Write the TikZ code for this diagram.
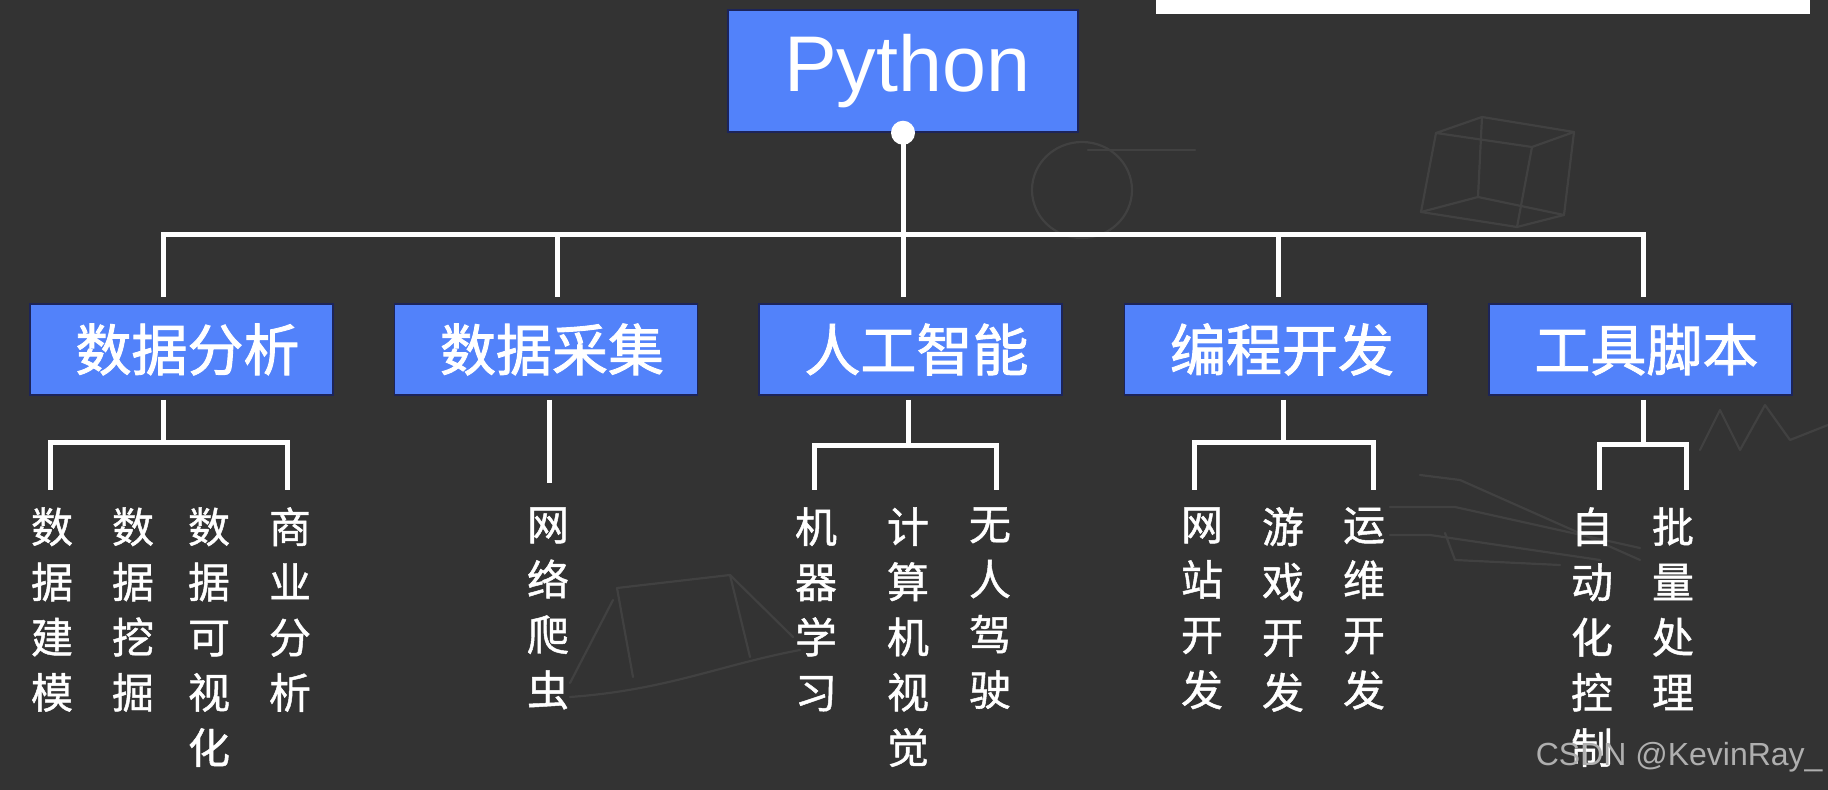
\documentclass[tikz,border=0pt]{standalone}
\usepackage{fontspec}
\setmainfont{Liberation Sans}
\newfontfamily\cjkb{Noto Sans CJK SC}[FakeBold=1.6]
\newfontfamily\cjkm{Noto Sans CJK SC}[FakeBold=1.1]
\definecolor{bg}{RGB}{51,51,51}
\definecolor{boxblue}{RGB}{82,130,250}
\definecolor{boxedge}{RGB}{28,36,90}
\definecolor{wm}{RGB}{175,175,175}
\definecolor{chalk}{RGB}{65,65,65}
\begin{document}
\begin{tikzpicture}[x=0.5pt,y=-0.5pt,
  conn/.style={draw=white, line width=2.5pt, line join=miter},
  doodle/.style={draw=chalk, line width=1.1pt, line cap=round, line join=round},
  topbox/.style={fill=boxblue, draw=boxedge, line width=0.75pt, inner sep=0pt,
    minimum width=175pt, minimum height=61pt, text=white,
    font=\fontsize{39.5pt}{42pt}\selectfont},
  catbox/.style={fill=boxblue, draw=boxedge, line width=0.75pt, inner sep=0pt,
    minimum width=151.5pt, minimum height=45.5pt, text=white,
    font=\cjkb\fontsize{28pt}{30pt}\selectfont},
  leaf/.style={text=white, font=\cjkm\fontsize{21pt}{27.6pt}\selectfont,
    align=center, anchor=north, inner sep=0pt},
]
\fill[bg] (0,0) rectangle (1828,790);
\useasboundingbox (0,0) rectangle (1828,790);
\fill[white] (1156,0) rectangle (1810,14);

% faint chalk doodles in the background
\draw[doodle] (1082,190) ellipse (25pt and 24pt);
\draw[doodle] (1088,150) -- (1195,150);
\draw[doodle] (1436,133) -- (1482,117) -- (1574,132) -- (1532,147) -- cycle;
\draw[doodle] (1436,133) -- (1421,212) -- (1517,227) -- (1564,215) -- (1574,132);
\draw[doodle] (1532,147) -- (1517,227);
\draw[doodle] (1482,117) -- (1478,197) -- (1421,212);
\draw[doodle] (1478,197) -- (1564,215);
\draw[doodle] (617,588) -- (730,575) -- (793,637);
\draw[doodle] (613,600) -- (570,683);
\draw[doodle] (617,588) -- (633,677);
\draw[doodle] (730,575) -- (750,657);
\draw[doodle] (570,697) .. controls (667,690) and (720,665) .. (800,650);
\draw[doodle] (1390,507) -- (1455,507) -- (1640,548);
\draw[doodle] (1420,475) -- (1460,480) -- (1640,560);
\draw[doodle] (1390,535) -- (1430,535) -- (1600,560);
\draw[doodle] (1445,533) -- (1455,560) -- (1560,565);
\draw[doodle] (1700,450) -- (1720,410) -- (1740,450) -- (1765,405) -- (1790,440) -- (1828,425);

% root
\node[topbox] (py) at (903,71) {\hspace*{4pt}Python};
\coordinate (bar) at (903,235);

% categories
\node[catbox] (c1) at (181.5,349.5) {\hspace*{6pt}数据分析};
\node[catbox] (c2) at (546,349.5) {\hspace*{6pt}数据采集};
\node[catbox] (c3) at (910.5,349.5) {\hspace*{6pt}人工智能};
\node[catbox] (c4) at (1276,349.5) {\hspace*{6pt}编程开发};
\node[catbox] (c5) at (1640.5,349.5) {\hspace*{6pt}工具脚本};

% top drops
\coordinate (t1) at (163,297);
\coordinate (t2) at (557,297);
\coordinate (t3) at (903,297);
\coordinate (t4) at (1278,297);
\coordinate (t5) at (1643,297);
\draw[conn] (t1) -- (t1|-bar) -- (t5|-bar) -- (t5);
\draw[conn] (bar -| t2) -- (t2);
\draw[conn] (bar -| t4) -- (t4);
\draw[conn] (py.south) -- (t3);
\fill[white] (py.south) circle (6pt);

% leaves: category 1
\node[leaf] (l11) at (52,507) {数\\据\\建\\模};
\node[leaf] (l12) at (133,507) {数\\据\\挖\\掘};
\node[leaf] (l13) at (209,507) {数\\据\\可\\视\\化};
\node[leaf] (l14) at (290,507) {商\\业\\分\\析};
\coordinate (s1) at (163,400);
\coordinate (h1) at (163,443);
\coordinate (d1a) at (50,490);
\coordinate (d1b) at (287,490);
\draw[conn] (s1) -- (h1);
\draw[conn] (d1a) -- (d1a|-h1) -- (d1b|-h1) -- (d1b);

% category 2
\node[leaf] (l21) at (548,507) {网\\络\\爬\\虫};
\coordinate (s2) at (549,400);
\coordinate (e2) at (549,483);
\draw[conn] (s2) -- (e2);

% category 3
\node[leaf] (l31) at (816,507) {机\\器\\学\\习};
\node[leaf] (l32) at (908,507) {计\\算\\机\\视\\觉};
\node[leaf] (l33) at (990,507) {无\\人\\驾\\驶};
\coordinate (s3) at (908,400);
\coordinate (h3) at (908,446);
\coordinate (d3a) at (814,490);
\coordinate (d3b) at (996,490);
\draw[conn] (s3) -- (h3);
\draw[conn] (d3a) -- (d3a|-h3) -- (d3b|-h3) -- (d3b);

% category 4
\node[leaf] (l41) at (1202,507) {网\\站\\开\\发};
\node[leaf] (l42) at (1283,507) {游\\戏\\开\\发};
\node[leaf] (l43) at (1364,507) {运\\维\\开\\发};
\coordinate (s4) at (1283,400);
\coordinate (h4) at (1283,443);
\coordinate (d4a) at (1194,490);
\coordinate (d4b) at (1373,490);
\draw[conn] (s4) -- (h4);
\draw[conn] (d4a) -- (d4a|-h4) -- (d4b|-h4) -- (d4b);

% category 5
\node[leaf] (l51) at (1592,507) {自\\动\\化\\控\\制};
\node[leaf] (l52) at (1673,507) {批\\量\\处\\理};
\coordinate (s5) at (1643,400);
\coordinate (h5) at (1643,445);
\coordinate (d5a) at (1599,490);
\coordinate (d5b) at (1686,490);
\draw[conn] (s5) -- (h5);
\draw[conn] (d5a) -- (d5a|-h5) -- (d5b|-h5) -- (d5b);

% watermark
\node[text=wm, font=\fontsize{16pt}{18pt}\selectfont, anchor=east, inner sep=0pt] (wmk) at (1823,757) {CSDN @KevinRay\_};
\end{tikzpicture}
\end{document}
